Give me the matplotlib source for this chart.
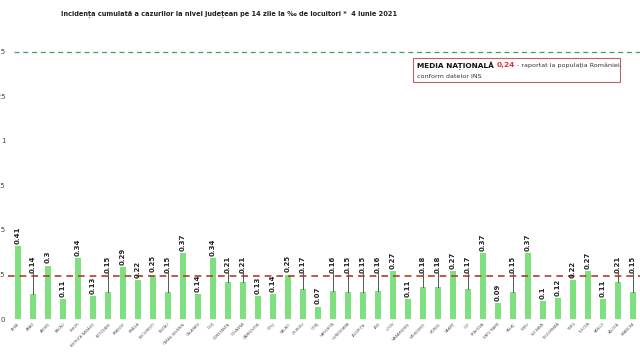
import matplotlib.pyplot as plt

judete = ["ALBA", "ARAD", "ARGEȘ", "BACĂU", "BIHOR", "BISTRIȚA-NĂSĂUD", "BOTOȘANI",
          "BRAȘOV", "BRĂILA", "BUCUREȘTI", "BUZĂU", "CARAȘ-SEVERIN", "CĂLĂRAȘI",
          "CLUJ", "CONSTANȚA", "COVASNA", "DÂMBOVIȚA", "DOLJ", "GALAȚI", "GIURGIU",
          "GORJ", "HARGHITA", "HUNEDOARA", "IALOMIȚA", "IAȘI", "ILFOV", "MARAMUREȘ",
          "MEHEDINȚI", "MUREȘ", "NEAMȚ", "OLT", "PRAHOVA", "SATU MARE", "SĂLAJ",
          "SIBIU", "SUCEAVA", "TELEORMAN", "TIMIȘ", "TULCEA", "VASLUI", "VÂLCEA",
          "VRANCEA"]
incidenta = [0.41, 0.14, 0.3, 0.11, 0.34, 0.13, 0.15, 0.29, 0.22, 0.25, 0.15, 0.37,
             0.14, 0.34, 0.21, 0.21, 0.13, 0.14, 0.25, 0.17, 0.07, 0.16, 0.15, 0.15,
             0.16, 0.27, 0.11, 0.18, 0.18, 0.27, 0.17, 0.37, 0.09, 0.15, 0.37, 0.1,
             0.12, 0.22, 0.27, 0.11, 0.21, 0.15]
# etichete mutate deasupra liniei rosii (cu linie de legatura)
ridicate = ["ARAD", "BOTOȘANI", "BUZĂU", "CONSTANȚA", "COVASNA", "GIURGIU", "HARGHITA",
            "HUNEDOARA", "IALOMIȚA", "IAȘI", "MEHEDINȚI", "MUREȘ", "OLT", "SĂLAJ",
            "VÂLCEA", "VRANCEA"]
media = 0.24
prag = 1.5
yticks = [0, 0.25, 0.5, 0.75, 1.0, 1.25, 1.5]

narrow = ["Liberation Sans Narrow", "DejaVu Sans"]

fig = plt.figure(figsize=(6.4, 3.59), dpi=100)
ax = fig.add_axes([0.0125, 0.1114, 0.9875, 0.7686])

x = range(len(judete))
ax.bar(x, incidenta, width=0.42, color="#7ee07e", zorder=2)
ax.axhline(media, color="#b83a2e", ls=(0, (4, 3)), lw=1.2, zorder=3)
ax.axhline(prag, color="#3aa65a", ls=(0, (4, 3)), lw=0.9, xmin=0.01, zorder=3)

for i, (j, v) in enumerate(zip(judete, incidenta)):
    if j in ridicate:
        yl = max(v + 0.015, 0.26)
        ax.plot([i, i], [v, yl], color="#555555", lw=0.7, zorder=4)
    else:
        yl = v + 0.012
    ax.text(i, yl, f"{v:g}", rotation=90, ha="center", va="bottom",
            fontsize=5, fontweight="bold", color="#222222", zorder=5)

ax.set_xlim(-0.67, 41.47)
ax.set_ylim(0, 1.55)
ax.set_yticks(yticks)
ax.set_yticklabels([f"{t:g}".replace(".", ",") for t in yticks], fontsize=5, color="#444444")
ax.set_xticks(list(x))
ax.set_xticklabels(judete, rotation=45, ha="right", rotation_mode="anchor",
                   fontsize=2.6, color="#555555")
ax.tick_params(length=0, pad=2)
for s in ax.spines.values():
    s.set_visible(False)

fig.text(0.358, 0.961, "Incidența cumulată a cazurilor la nivel județean pe 14 zile la ‰ de locuitori *  4 iunie 2021",
         ha="center", va="center", fontsize=4.75, fontweight="bold", color="#222222",
         family=narrow)

# caseta media nationala
fig.patches.append(plt.Rectangle((0.645, 0.772), 0.324, 0.067, transform=fig.transFigure,
                                 fill=False, edgecolor="#c0606a", lw=0.8))
t1 = fig.text(0.652, 0.818, "MEDIA NAȚIONALĂ ", fontsize=5.3, fontweight="bold",
              color="#111111", va="center")
fig.canvas.draw()
bb = t1.get_window_extent()
x2 = bb.x1 / fig.bbox.width
t2 = fig.text(x2, 0.818, "0,24", fontsize=5.3, fontweight="bold", color="#e0303a", va="center")
bb2 = t2.get_window_extent()
fig.text(bb2.x1 / fig.bbox.width, 0.818, " - raportat la populația României,", fontsize=4.6,
         color="#333333", va="center")
fig.text(0.652, 0.788, "conform datelor INS", fontsize=4.6, color="#333333", va="center")

fig.savefig("out.png", dpi=100)
